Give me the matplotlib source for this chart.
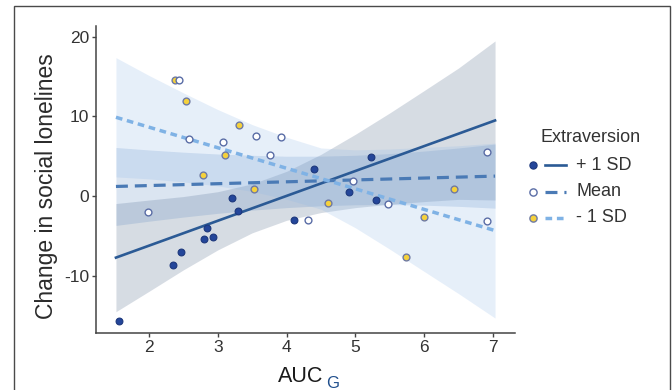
import matplotlib
matplotlib.use("Agg")
import matplotlib.pyplot as plt
from matplotlib.lines import Line2D
from matplotlib.patches import Rectangle

plt.rcParams["font.family"] = ["Liberation Sans", "DejaVu Sans"]
plt.rcParams["lines.scale_dashes"] = False
plt.rcParams["axes.unicode_minus"] = False

# observed points, one group per level of extraversion
plus_x = [1.57, 2.35, 2.46, 2.80, 2.84, 2.93, 3.20, 3.29, 4.11, 4.40, 4.90, 5.22, 5.30]
plus_y = [-15.7, -8.7, -7.0, -5.45, -4.0, -5.1, -0.3, -1.85, -3.0, 3.35, 0.45, 4.9, -0.55]
mean_x = [1.98, 2.43, 2.58, 3.07, 3.56, 3.76, 3.92, 4.31, 4.97, 5.47, 6.92, 6.92]
mean_y = [-2.0, 14.6, 7.2, 6.8, 7.5, 5.2, 7.4, -3.0, 1.9, -0.95, 5.5, -3.1]
minus_x = [2.38, 2.54, 2.78, 3.10, 3.31, 3.52, 4.60, 5.74, 6.00, 6.43]
minus_y = [14.55, 11.9, 2.7, 5.2, 8.9, 0.85, -0.9, -7.7, -2.65, 0.85]

# simple slopes (end points) and their confidence bands
line_x = [1.52, 7.03]
plus_line = [-7.75, 9.5]
mean_line = [1.2, 2.5]
minus_line = [9.9, -4.35]

band_x = [1.52, 2.0, 2.5, 3.0, 3.5, 4.0, 4.5, 5.0, 5.5, 6.0, 6.5, 7.03]
plus_lo = [-14.55, -11.99, -9.29, -6.78, -4.63, -3.06, -2.08, -1.46, -1.03, -0.70, -0.42, -0.5]
plus_hi = [-0.95, -0.51, -0.07, 0.54, 1.53, 3.10, 5.24, 7.76, 10.45, 13.26, 16.10, 19.5]
mean_lo = [-3.7, -3.17, -2.65, -2.18, -1.78, -1.46, -1.23, -1.10, -1.07, -1.15, -1.30, -1.53]
mean_hi = [6.1, 5.79, 5.51, 5.28, 5.12, 5.0, 5.01, 5.12, 5.33, 5.65, 6.04, 6.53]
minus_lo = [2.4, 2.16, 1.77, 1.27, 0.58, -0.41, -1.66, -4.0, -6.69, -9.49, -12.28, -15.35]
minus_hi = [17.4, 15.16, 12.97, 10.87, 8.98, 7.39, 6.04, 5.8, 5.91, 6.11, 6.32, 6.65]

x_ticks = [2, 3, 4, 5, 6, 7]
y_ticks = [-10, 0, 10, 20]
legend_labels = ["+ 1 SD", "Mean", "- 1 SD"]

W, H = 672, 390
fig = plt.figure(figsize=(W / 100, H / 100), dpi=100)
ax = fig.add_axes([96 / W, 1 - 333 / H, (515 - 96) / W, (333 - 26) / H])

# bands
ax.fill_between(band_x, plus_lo, plus_hi, color="#6a7f9a", alpha=0.27, lw=0, zorder=1)
ax.fill_between(band_x, mean_lo, mean_hi, color="#5b89c0", alpha=0.22, lw=0, zorder=1)
ax.fill_between(band_x, minus_lo, minus_hi, color="#8fb8e8", alpha=0.22, lw=0, zorder=1)

# lines
styles = {
    "plus": dict(color="#2b5a95", lw=1.9, ls="-"),
    "mean": dict(color="#4a7ab5", lw=2.3, ls=(0, (8.6, 5.0))),
    "minus": dict(color="#7fb2e5", lw=2.5, ls=(0, (4.8, 3.4))),
}
ax.plot(line_x, plus_line, zorder=2, **styles["plus"])
ax.plot(line_x, mean_line, zorder=2, **styles["mean"])
ax.plot(line_x, minus_line, zorder=2, **styles["minus"])

# points
pts = {
    "plus": dict(c="#24469a", edgecolors="#1c377c", linewidths=0.8),
    "mean": dict(c="white", edgecolors="#5a6da6", linewidths=1.0),
    "minus": dict(c="#f5d13b", edgecolors="#6f7aa3", linewidths=1.0),
}
ax.scatter(minus_x, minus_y, s=24, zorder=3, **pts["minus"])
ax.scatter(mean_x, mean_y, s=24, zorder=4, **pts["mean"])
ax.scatter(plus_x, plus_y, s=24, zorder=5, **pts["plus"])

ax.set_xlim(1.23, 7.32)
ax.set_ylim(-17.23, 21.38)
ax.set_xticks(x_ticks)
ax.set_yticks(y_ticks)
for s in ["top", "right"]:
    ax.spines[s].set_visible(False)
for s in ["left", "bottom"]:
    ax.spines[s].set_color("#444444")
    ax.spines[s].set_linewidth(1.1)
ax.tick_params(length=3, width=1.0, color="#444444", labelsize=12.5,
               labelcolor="#333333", pad=2)
ax.patch.set_alpha(0)

# axis titles
fig.text(46 / W, 1 - 186 / H, "Change in social lonelines", rotation=90,
         ha="center", va="center", fontsize=16.5, color="#2b2b2b")
fig.text(301 / W, 1 - 377 / H, "AUC", ha="center", va="center",
         fontsize=15.5, color="#1a1a1a")
fig.text(333 / W, 1 - 384 / H, "G", ha="center", va="center",
         fontsize=12, color="#1f4e8c")

# legend, drawn by hand
fig.text(541 / W, 1 - 137 / H, "Extraversion", ha="left", va="center",
         fontsize=13, color="#333333")
keys = ["plus", "mean", "minus"]
rows = [165, 192, 218]
for key, label, py in zip(keys, legend_labels, rows):
    yf = 1 - py / H
    st = styles[key]
    fig.add_artist(Line2D([545 / W, 566 / W], [yf, yf], transform=fig.transFigure,
                          color=st["color"], lw=st["lw"], ls=st["ls"]))
    p = pts[key]
    fig.add_artist(Line2D([533 / W], [yf], transform=fig.transFigure, marker="o",
                          ms=5.2, mfc=p["c"], mec=p["edgecolors"], mew=p["linewidths"],
                          ls="none"))
    fig.text(576 / W, yf, label, ha="left", va="center", fontsize=13, color="#333333")

# outer frame of the original figure
fig.add_artist(Rectangle((14 / W, -0.05), (670 - 14) / W, 1.05 - 6 / H,
                         transform=fig.transFigure, fill=False,
                         ec="#4a4a4a", lw=1.0))

fig.savefig("out.png", dpi=100)
